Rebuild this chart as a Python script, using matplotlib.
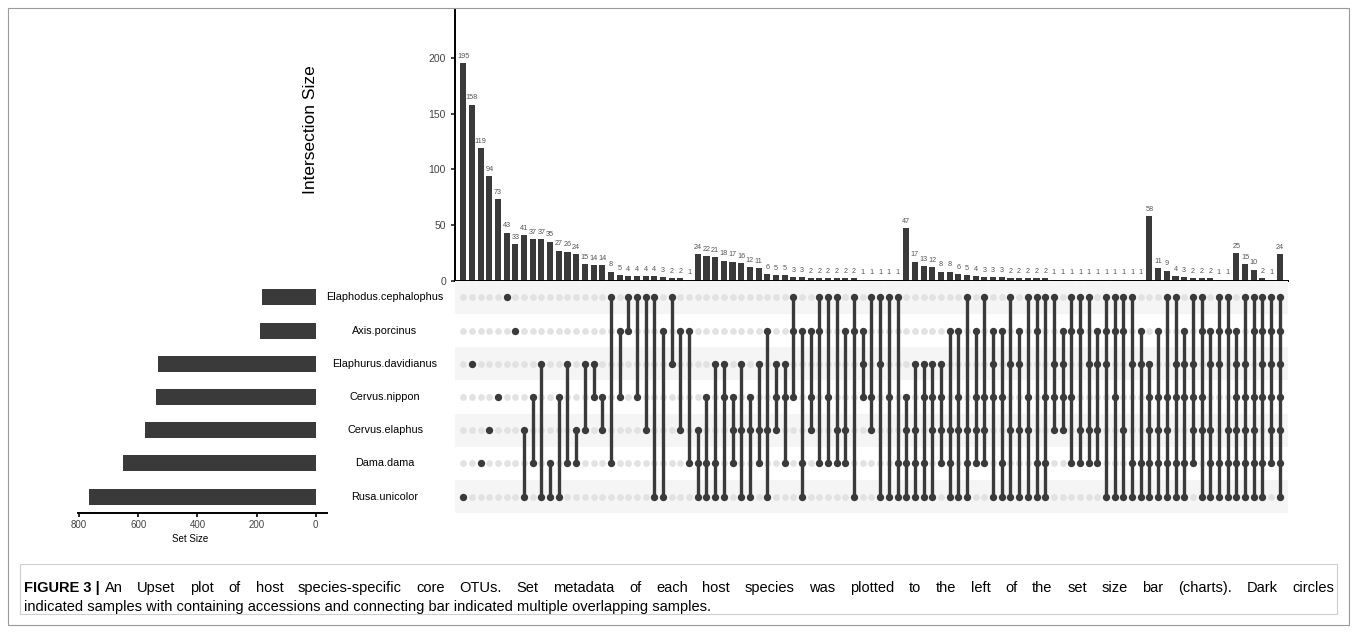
import matplotlib
matplotlib.use("Agg")
import matplotlib.pyplot as plt
from matplotlib.patches import Rectangle
import matplotlib.transforms as mtransforms

plt.rcParams['font.family'] = ['Liberation Sans', 'DejaVu Sans']

# set names, top row first
set_names = ["Elaphodus.cephalophus", "Axis.porcinus", "Elaphurus.davidianus",
             "Cervus.nippon", "Cervus.elaphus", "Dama.dama", "Rusa.unicolor"]
set_sizes = [181, 190, 534, 539, 577, 651, 768]

# intersection sizes, left to right
inter_sizes = [195, 158, 119, 94, 73, 43, 33, 41, 37, 37, 35, 27, 26, 24, 15, 14, 14, 8, 5, 4, 4, 4, 4, 3, 2, 2, 1,
               24, 22, 21, 18, 17, 16, 12, 11, 6, 5, 5, 3, 3, 2, 2, 2, 2, 2, 2, 1, 1, 1, 1, 1,
               47, 17, 13, 12, 8, 8, 6, 5, 4, 3, 3, 3, 2, 2, 2, 2, 2, 1, 1, 1, 1, 1, 1, 1, 1, 1, 1, 1,
               58, 11, 9, 4, 3, 2, 2, 2, 1, 1,
               25, 15, 10, 2, 1,
               24]

# members of each intersection (row index into set_names)
inter_sets = [
    (6,), (2,), (5,), (4,), (3,), (0,), (1,),
    (4, 6), (3, 5), (2, 6), (5, 6), (3, 6), (2, 5), (4, 5), (2, 4), (2, 3), (3, 4),
    (0, 5), (1, 3), (0, 1), (0, 3), (0, 4), (0, 6), (1, 6), (0, 2), (1, 4), (1, 5),
    (4, 5, 6), (3, 5, 6), (2, 5, 6), (2, 3, 6), (3, 4, 5), (2, 4, 6), (3, 4, 6), (2, 4, 5),
    (1, 4, 6), (2, 3, 4), (2, 3, 5), (0, 1, 3), (1, 5, 6), (1, 3, 4), (0, 1, 5), (0, 3, 5),
    (0, 4, 5), (1, 4, 5), (0, 1, 6), (1, 2, 3), (0, 3, 4), (0, 2, 6), (0, 3, 6), (0, 5, 6),
    (3, 4, 5, 6), (2, 4, 5, 6), (2, 3, 5, 6), (2, 3, 4, 6), (2, 3, 4, 5), (1, 4, 5, 6),
    (1, 3, 4, 6), (0, 4, 5, 6), (1, 3, 4, 5), (0, 3, 4, 5), (1, 2, 3, 6), (1, 3, 5, 6),
    (0, 2, 4, 6), (1, 2, 4, 6), (0, 3, 4, 6), (0, 1, 5, 6), (0, 3, 5, 6), (0, 2, 3, 4),
    (1, 2, 3, 4), (0, 1, 3, 5), (0, 1, 4, 5), (0, 2, 4, 5), (1, 2, 4, 5), (0, 1, 2, 6),
    (0, 1, 3, 6), (0, 1, 4, 6), (0, 2, 5, 6), (1, 2, 5, 6),
    (2, 3, 4, 5, 6), (1, 3, 4, 5, 6), (0, 3, 4, 5, 6), (0, 2, 3, 5, 6), (1, 2, 3, 5, 6),
    (0, 2, 3, 4, 5), (0, 1, 3, 4, 6), (1, 2, 4, 5, 6), (0, 1, 2, 5, 6), (0, 1, 4, 5, 6),
    (1, 2, 3, 4, 5, 6), (0, 2, 3, 4, 5, 6), (0, 1, 3, 4, 5, 6), (0, 1, 2, 3, 5, 6), (0, 1, 2, 3, 4, 5),
    (0, 1, 2, 3, 4, 5, 6),
]

caption_1 = ("An Upset plot of host species-specific core OTUs. Set metadata of each host species was plotted "
             "to the left of the set size bar (charts). Dark circles")
caption_2 = "indicated samples with containing accessions and connecting bar indicated multiple overlapping samples."

dark = "#3a3a3a"
W, H = 1357, 633
fig = plt.figure(figsize=(W / 100, H / 100), dpi=100)

def px_axes(x0, y0, x1, y1):
    return fig.add_axes([x0 / W, 1 - y1 / H, (x1 - x0) / W, (y1 - y0) / H])

n = len(inter_sizes)
nrow = len(set_names)

# set size bars (drawn first so the names stay on top)
ax_set = px_axes(78, 280.7, 327, 513.3)
ax_set.patch.set_visible(False)
ax_set.barh([nrow - 1 - i for i in range(nrow)], set_sizes, height=0.48, color=dark)
ax_set.set_xlim(804, -38)
ax_set.set_ylim(-0.5, nrow - 0.5)
ax_set.set_xticks([800, 600, 400, 200, 0])
ax_set.set_yticks([])
ax_set.tick_params(axis="x", labelsize=7, length=3, width=1.2, pad=2, labelcolor="#444444")
for s in ["top", "right", "left"]:
    ax_set.spines[s].set_visible(False)
ax_set.spines["bottom"].set_linewidth(1.4)
ax_set.set_xlabel("Set Size", fontsize=7, labelpad=0)
ax_set.xaxis.set_label_coords(0.45, -0.09)

# intersection bars
ax_bar = px_axes(455, 10, 1288, 280.7)
xs = list(range(n))
ax_bar.bar(xs, inter_sizes, width=0.7, color=dark)
for x, v in zip(xs, inter_sizes):
    ax_bar.text(x, v + 3, str(v), ha="center", va="bottom", fontsize=5.2, color="#555555")
ax_bar.set_xlim(-0.95, n - 0.05)
ax_bar.set_ylim(0, 243)
ax_bar.set_yticks([0, 50, 100, 150, 200])
ax_bar.tick_params(axis="y", labelsize=7.5, length=3, width=1.2, colors="#222222", labelcolor="#444444")
ax_bar.set_xticks([])
for s in ["top", "right"]:
    ax_bar.spines[s].set_visible(False)
ax_bar.spines["left"].set_linewidth(1.4)
ax_bar.spines["bottom"].set_linewidth(1.4)
ax_bar.set_ylabel("Intersection Size", fontsize=12.5, labelpad=0)
ax_bar.yaxis.set_label_coords((318 - 455) / 833, (280.7 - 130) / 270.7)

# matrix
ax_mat = px_axes(455, 280.7, 1288, 513.3)
ax_mat.set_xlim(-0.95, n - 0.05)
ax_mat.set_ylim(-0.5, nrow - 0.5)
for i in range(nrow):
    if i % 2 == 0:
        ax_mat.axhspan(nrow - 1 - i - 0.5, nrow - 1 - i + 0.5, color="#f5f5f5", lw=0, zorder=0)
for x, members in zip(xs, inter_sets):
    ys = [nrow - 1 - r for r in members]
    others = [nrow - 1 - r for r in range(nrow) if r not in members]
    ax_mat.scatter([x] * len(others), others, s=24, color="#e2e2e2", lw=0, zorder=1)
    if len(ys) > 1:
        ax_mat.plot([x, x], [min(ys), max(ys)], color=dark, lw=2.4, zorder=2, solid_capstyle="butt")
    ax_mat.scatter([x] * len(ys), ys, s=28, color=dark, lw=0, zorder=3)
ax_mat.axis("off")

# set names
trans = mtransforms.blended_transform_factory(fig.transFigure, ax_mat.transData)
for i, name in enumerate(set_names):
    ax_mat.text(385 / W, nrow - 1 - i, name, transform=trans, ha="center", va="center", fontsize=7.8)

# frame and caption
fig.patches.append(Rectangle((8 / W, 1 - 625 / H), 1341 / W, 617 / H, transform=fig.transFigure,
                             fill=False, ec="#9a9a9a", lw=0.8))
fig.patches.append(Rectangle((20 / W, 1 - 614 / H), 1317 / W, 50 / H, transform=fig.transFigure,
                             fill=False, ec="#cfcfcf", lw=0.8))

t1 = fig.text(24 / W, 1 - 588 / H, "FIGURE 3 |", fontsize=10.5, fontweight="bold", va="center")
fig.canvas.draw()
renderer = fig.canvas.get_renderer()
x_start = t1.get_window_extent(renderer).x1 + 5
x_end = 1334
# justified first line: words spread evenly
words = caption_1.split()
objs = [fig.text(0, 1 - 588 / H, w, fontsize=10.5, va="center") for w in words]
widths = [o.get_window_extent(renderer).width for o in objs]
gap = (x_end - x_start - sum(widths)) / (len(words) - 1)
pos = x_start
for o, w in zip(objs, widths):
    o.set_x(pos / W)
    pos += w + gap
fig.text(24 / W, 1 - 607 / H, caption_2, fontsize=10.5, va="center")

fig.savefig("out.png", dpi=100)
